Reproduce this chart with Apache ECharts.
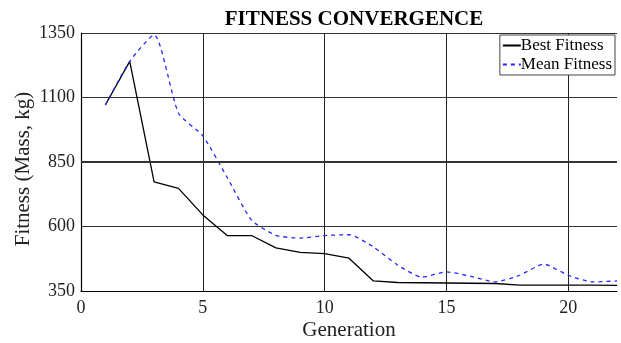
<!DOCTYPE html>
<html>
<head>
<meta charset="utf-8">
<script src="https://cdn.jsdelivr.net/npm/echarts@6/dist/echarts.min.js"></script>
<style>html,body{margin:0;padding:0;background:#fff;}#c{width:621px;height:343px;}</style>
</head>
<body>
<div id="c"></div>
<script>
const generations = [1,2,3,4,5,6,7,8,9,10,11,12,13,14,15,16,17,18,19,20,21,22];
const bestFitness = [1071,1240,773,748,645,565,565,517,500,495,477,389,383,382,381,380,379,373,373,373,373,372];
const meanFitness = [1071,1240,1343,1040,951,790,625,566,555,565,568,521,450,404,424,407,385,411,454,411,385,389];
const yTicks = [350,600,850,1100,1350];
const xTicks = [0,5,10,15,20];

const serif = "'Liberation Serif','Times New Roman',serif";
const chart = echarts.init(document.getElementById('c'), null, {renderer:'canvas'});
chart.setOption({
  animation:false,
  backgroundColor:'#fff',
  title:{text:'FITNESS CONVERGENCE', left:349, textAlign:'center', top:4,
    textStyle:{fontFamily:serif, fontWeight:'bold', fontSize:21, color:'#000'}},
  legend:{orient:'vertical', right:6, top:35, padding:[2,3,2,2], itemGap:2,
    itemWidth:18, itemHeight:14, borderColor:'#444', borderWidth:1, backgroundColor:'#fff',
    itemStyle:{opacity:0},
    textStyle:{fontFamily:serif, fontSize:17, color:'#000', padding:[0,0,0,-5]},
    data:['Best Fitness','Mean Fitness']},
  grid:{left:81, right:4, top:33, bottom:52, containLabel:false, outerBoundsMode:'none'},
  xAxis:{type:'value', min:0, max:22, name:'Generation', nameLocation:'middle', nameGap:29,
    nameMoveOverlap:false,
    nameTextStyle:{fontFamily:serif, fontSize:21, color:'#222'},
    axisLine:{show:true, onZero:false, lineStyle:{color:'#000', width:1.2}},
    axisTick:{show:false, customValues:xTicks},
    axisLabel:{customValues:xTicks, formatter:v=>String(v), fontFamily:serif, fontSize:18, color:'#222', margin:8},
    splitLine:{show:true, lineStyle:{color:'#222', width:1}}},
  yAxis:{type:'value', min:350, max:1350, name:'Fitness (Mass, kg)', nameLocation:'middle', nameGap:47,
    nameMoveOverlap:false,
    nameTextStyle:{fontFamily:serif, fontSize:21, color:'#222', padding:[0,14,0,0]},
    axisLine:{show:true, onZero:false, lineStyle:{color:'#000', width:1.2}},
    axisTick:{show:false, customValues:yTicks},
    axisLabel:{customValues:yTicks, formatter:v=>String(v), fontFamily:serif, fontSize:18, color:'#222', margin:6},
    splitLine:{show:true, lineStyle:{color:'#333', width:1}}},
  series:[
    {name:'Best Fitness', type:'line', data:generations.map((g,i)=>[g,bestFitness[i]]),
      showSymbol:false, symbol:'none', lineStyle:{color:'#000', width:1.3}, itemStyle:{color:'#000'},
      markLine:{silent:true, symbol:'none', label:{show:false}, data:[{yAxis:850}],
        lineStyle:{color:'#333', width:2, type:'solid'}}},
    {name:'Mean Fitness', type:'line', data:generations.map((g,i)=>[g,meanFitness[i]]),
      showSymbol:false, symbol:'none', smooth:0.2,
      lineStyle:{color:'#2525ff', width:1.3, type:[4,4]}, itemStyle:{color:'#2525ff'}}
  ]
});
</script>
</body>
</html>
